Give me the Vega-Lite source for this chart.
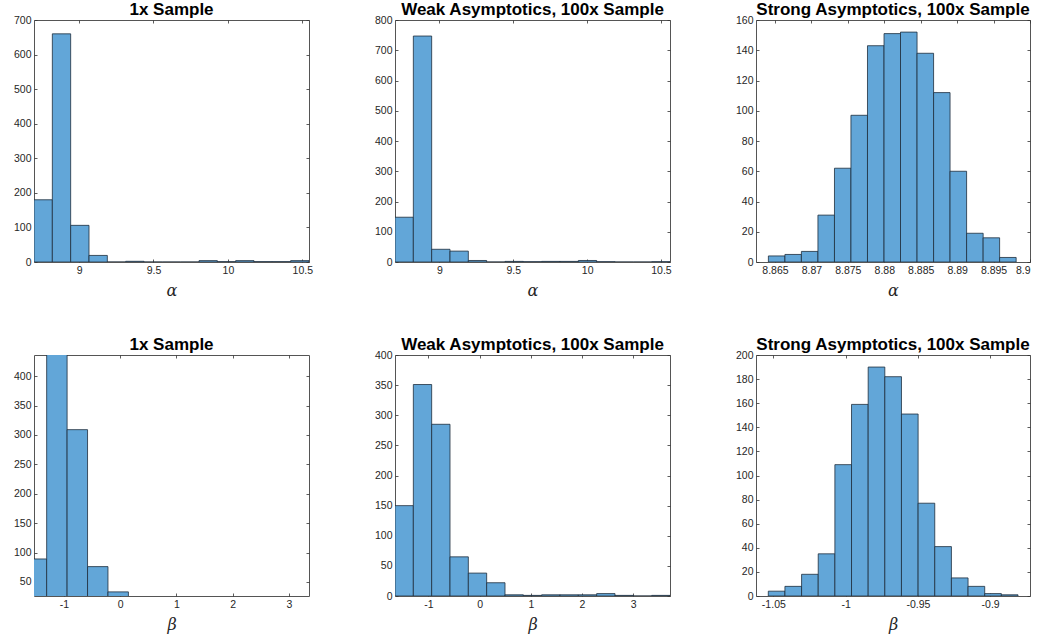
{
  "$schema": "https://vega.github.io/schema/vega-lite/v6.json",
  "autosize": {"type": "pad"},
  "padding": {"left": 12, "top": 0, "right": 5, "bottom": 5},
  "background": "white",
  "datasets": {
    "a1": [
      {"x0": 8.697, "x1": 8.8202, "count": 180},
      {"x0": 8.8202, "x1": 8.9434, "count": 660},
      {"x0": 8.9434, "x1": 9.0666, "count": 106},
      {"x0": 9.0666, "x1": 9.1898, "count": 19},
      {"x0": 9.1898, "x1": 9.313, "count": 0},
      {"x0": 9.313, "x1": 9.4362, "count": 2},
      {"x0": 9.4362, "x1": 9.5594, "count": 0},
      {"x0": 9.5594, "x1": 9.6826, "count": 0},
      {"x0": 9.6826, "x1": 9.8058, "count": 0},
      {"x0": 9.8058, "x1": 9.929, "count": 4},
      {"x0": 9.929, "x1": 10.0522, "count": 1},
      {"x0": 10.0522, "x1": 10.1754, "count": 4},
      {"x0": 10.1754, "x1": 10.2986, "count": 1},
      {"x0": 10.2986, "x1": 10.4218, "count": 1},
      {"x0": 10.4218, "x1": 10.545, "count": 4}
    ],
    "a2": [
      {"x0": 8.699, "x1": 8.8231, "count": 148},
      {"x0": 8.8231, "x1": 8.9473, "count": 747},
      {"x0": 8.9473, "x1": 9.0714, "count": 42},
      {"x0": 9.0714, "x1": 9.1955, "count": 36},
      {"x0": 9.1955, "x1": 9.3197, "count": 5},
      {"x0": 9.3197, "x1": 9.4438, "count": 0},
      {"x0": 9.4438, "x1": 9.5679, "count": 2},
      {"x0": 9.5679, "x1": 9.6921, "count": 1},
      {"x0": 9.6921, "x1": 9.8162, "count": 2},
      {"x0": 9.8162, "x1": 9.9403, "count": 2},
      {"x0": 9.9403, "x1": 10.0645, "count": 5},
      {"x0": 10.0645, "x1": 10.1886, "count": 1},
      {"x0": 10.1886, "x1": 10.3127, "count": 0},
      {"x0": 10.3127, "x1": 10.4369, "count": 0},
      {"x0": 10.4369, "x1": 10.561, "count": 1}
    ],
    "a3": [
      {"x0": 8.8641, "x1": 8.86637, "count": 4},
      {"x0": 8.86637, "x1": 8.86863, "count": 5},
      {"x0": 8.86863, "x1": 8.8709, "count": 7},
      {"x0": 8.8709, "x1": 8.87317, "count": 31},
      {"x0": 8.87317, "x1": 8.87543, "count": 62},
      {"x0": 8.87543, "x1": 8.8777, "count": 97},
      {"x0": 8.8777, "x1": 8.87997, "count": 143},
      {"x0": 8.87997, "x1": 8.88223, "count": 151},
      {"x0": 8.88223, "x1": 8.8845, "count": 152},
      {"x0": 8.8845, "x1": 8.88677, "count": 138},
      {"x0": 8.88677, "x1": 8.88903, "count": 112},
      {"x0": 8.88903, "x1": 8.8913, "count": 60},
      {"x0": 8.8913, "x1": 8.89357, "count": 19},
      {"x0": 8.89357, "x1": 8.89583, "count": 16},
      {"x0": 8.89583, "x1": 8.8981, "count": 3}
    ],
    "b1": [
      {"x0": -1.668, "x1": -1.305, "count": 89},
      {"x0": -1.305, "x1": -0.942, "count": 470},
      {"x0": -0.942, "x1": -0.579, "count": 309},
      {"x0": -0.579, "x1": -0.216, "count": 76},
      {"x0": -0.216, "x1": 0.147, "count": 33}
    ],
    "b2": [
      {"x0": -1.652, "x1": -1.294, "count": 150},
      {"x0": -1.294, "x1": -0.936, "count": 351},
      {"x0": -0.936, "x1": -0.578, "count": 285},
      {"x0": -0.578, "x1": -0.22, "count": 65},
      {"x0": -0.22, "x1": 0.138, "count": 38},
      {"x0": 0.138, "x1": 0.496, "count": 22},
      {"x0": 0.496, "x1": 0.854, "count": 2},
      {"x0": 0.854, "x1": 1.212, "count": 1},
      {"x0": 1.212, "x1": 1.57, "count": 2},
      {"x0": 1.57, "x1": 1.928, "count": 2},
      {"x0": 1.928, "x1": 2.286, "count": 2},
      {"x0": 2.286, "x1": 2.644, "count": 4},
      {"x0": 2.644, "x1": 3.002, "count": 1},
      {"x0": 3.002, "x1": 3.36, "count": 0},
      {"x0": 3.36, "x1": 3.718, "count": 1}
    ],
    "b3": [
      {"x0": -1.0535, "x1": -1.04198, "count": 4},
      {"x0": -1.04198, "x1": -1.03046, "count": 8},
      {"x0": -1.03046, "x1": -1.01894, "count": 18},
      {"x0": -1.01894, "x1": -1.00742, "count": 35},
      {"x0": -1.00742, "x1": -0.9959, "count": 109},
      {"x0": -0.9959, "x1": -0.98438, "count": 159},
      {"x0": -0.98438, "x1": -0.97286, "count": 190},
      {"x0": -0.97286, "x1": -0.96134, "count": 182},
      {"x0": -0.96134, "x1": -0.94982, "count": 151},
      {"x0": -0.94982, "x1": -0.9383, "count": 77},
      {"x0": -0.9383, "x1": -0.92678, "count": 41},
      {"x0": -0.92678, "x1": -0.91526, "count": 15},
      {"x0": -0.91526, "x1": -0.90374, "count": 8},
      {"x0": -0.90374, "x1": -0.89222, "count": 2},
      {"x0": -0.89222, "x1": -0.8807, "count": 1}
    ]
  },
  "columns": 3,
  "spacing": {"row": 93, "column": 86},
  "bounds": "flush",
  "concat": [
    {
      "data": {"name": "a1"}, "width": 275, "height": 242, "title": "1x Sample",
      "layer": [
        {"mark": {"type": "rect", "fill": "#62a6d8", "stroke": "#1e2d3c", "strokeWidth": 0.8, "clip": true},
         "encoding": {
           "x": {"field": "x0", "type": "quantitative", "scale": {"domain": [8.697, 10.545], "nice": false, "zero": false}, "axis": {"values": [9, 9.5, 10, 10.5], "title": "α", "labelExpr": "'' + datum.value"}},
           "x2": {"field": "x1"},
           "y": {"field": "count", "type": "quantitative", "scale": {"domain": [0, 700], "nice": false}, "axis": {"values": [0, 100, 200, 300, 400, 500, 600, 700], "title": null}},
           "y2": {"datum": 0}}},
        {"mark": {"type": "point", "opacity": 0, "clip": true},
         "encoding": {
           "x": {"field": "x0", "type": "quantitative", "axis": {"orient": "top", "values": [9, 9.5, 10, 10.5], "labels": false, "title": null}},
           "y": {"field": "count", "type": "quantitative", "axis": {"orient": "right", "values": [0, 100, 200, 300, 400, 500, 600, 700], "labels": false, "title": null}}}}
      ],
      "resolve": {"axis": {"x": "independent", "y": "independent"}}
    },
    {
      "data": {"name": "a2"}, "width": 275, "height": 242, "title": "Weak Asymptotics, 100x Sample",
      "layer": [
        {"mark": {"type": "rect", "fill": "#62a6d8", "stroke": "#1e2d3c", "strokeWidth": 0.8, "clip": true},
         "encoding": {
           "x": {"field": "x0", "type": "quantitative", "scale": {"domain": [8.699, 10.561], "nice": false, "zero": false}, "axis": {"values": [9, 9.5, 10, 10.5], "title": "α", "labelExpr": "'' + datum.value"}},
           "x2": {"field": "x1"},
           "y": {"field": "count", "type": "quantitative", "scale": {"domain": [0, 800], "nice": false}, "axis": {"values": [0, 100, 200, 300, 400, 500, 600, 700, 800], "title": null}},
           "y2": {"datum": 0}}},
        {"mark": {"type": "point", "opacity": 0, "clip": true},
         "encoding": {
           "x": {"field": "x0", "type": "quantitative", "axis": {"orient": "top", "values": [9, 9.5, 10, 10.5], "labels": false, "title": null}},
           "y": {"field": "count", "type": "quantitative", "axis": {"orient": "right", "values": [0, 100, 200, 300, 400, 500, 600, 700, 800], "labels": false, "title": null}}}}
      ],
      "resolve": {"axis": {"x": "independent", "y": "independent"}}
    },
    {
      "data": {"name": "a3"}, "width": 274, "height": 242, "title": "Strong Asymptotics, 100x Sample",
      "layer": [
        {"mark": {"type": "rect", "fill": "#62a6d8", "stroke": "#1e2d3c", "strokeWidth": 0.8, "clip": true},
         "encoding": {
           "x": {"field": "x0", "type": "quantitative", "scale": {"domain": [8.8624, 8.9], "nice": false, "zero": false}, "axis": {"values": [8.865, 8.87, 8.875, 8.88, 8.885, 8.89, 8.895, 8.9], "title": "α", "labelExpr": "'' + datum.value"}},
           "x2": {"field": "x1"},
           "y": {"field": "count", "type": "quantitative", "scale": {"domain": [0, 160], "nice": false}, "axis": {"values": [0, 20, 40, 60, 80, 100, 120, 140, 160], "title": null}},
           "y2": {"datum": 0}}},
        {"mark": {"type": "point", "opacity": 0, "clip": true},
         "encoding": {
           "x": {"field": "x0", "type": "quantitative", "axis": {"orient": "top", "values": [8.865, 8.87, 8.875, 8.88, 8.885, 8.89, 8.895, 8.9], "labels": false, "title": null}},
           "y": {"field": "count", "type": "quantitative", "axis": {"orient": "right", "values": [0, 20, 40, 60, 80, 100, 120, 140, 160], "labels": false, "title": null}}}}
      ],
      "resolve": {"axis": {"x": "independent", "y": "independent"}}
    },
    {
      "data": {"name": "b1"}, "width": 275, "height": 241, "title": {"text": "1x Sample", "offset": 1},
      "layer": [
        {"mark": {"type": "rect", "fill": "#62a6d8", "stroke": "#1e2d3c", "strokeWidth": 0.8, "clip": true},
         "encoding": {
           "x": {"field": "x0", "type": "quantitative", "scale": {"domain": [-1.53, 3.355], "nice": false, "zero": false}, "axis": {"values": [-1, 0, 1, 2, 3], "title": "β", "labelExpr": "'' + datum.value"}},
           "x2": {"field": "x1"},
           "y": {"field": "count", "type": "quantitative", "scale": {"domain": [26, 436], "nice": false, "zero": false}, "axis": {"values": [50, 100, 150, 200, 250, 300, 350, 400], "title": null}},
           "y2": {"datum": 0}}},
        {"mark": {"type": "point", "opacity": 0, "clip": true},
         "encoding": {
           "x": {"field": "x0", "type": "quantitative", "axis": {"orient": "top", "values": [-1, 0, 1, 2, 3], "labels": false, "title": null}},
           "y": {"field": "count", "type": "quantitative", "axis": {"orient": "right", "values": [50, 100, 150, 200, 250, 300, 350, 400], "labels": false, "title": null}}}}
      ],
      "resolve": {"axis": {"x": "independent", "y": "independent"}}
    },
    {
      "data": {"name": "b2"}, "width": 275, "height": 241, "title": "Weak Asymptotics, 100x Sample",
      "layer": [
        {"mark": {"type": "rect", "fill": "#62a6d8", "stroke": "#1e2d3c", "strokeWidth": 0.8, "clip": true},
         "encoding": {
           "x": {"field": "x0", "type": "quantitative", "scale": {"domain": [-1.652, 3.718], "nice": false, "zero": false}, "axis": {"values": [-1, 0, 1, 2, 3], "title": "β", "labelExpr": "'' + datum.value"}},
           "x2": {"field": "x1"},
           "y": {"field": "count", "type": "quantitative", "scale": {"domain": [0, 400], "nice": false}, "axis": {"values": [0, 50, 100, 150, 200, 250, 300, 350, 400], "title": null}},
           "y2": {"datum": 0}}},
        {"mark": {"type": "point", "opacity": 0, "clip": true},
         "encoding": {
           "x": {"field": "x0", "type": "quantitative", "axis": {"orient": "top", "values": [-1, 0, 1, 2, 3], "labels": false, "title": null}},
           "y": {"field": "count", "type": "quantitative", "axis": {"orient": "right", "values": [0, 50, 100, 150, 200, 250, 300, 350, 400], "labels": false, "title": null}}}}
      ],
      "resolve": {"axis": {"x": "independent", "y": "independent"}}
    },
    {
      "data": {"name": "b3"}, "width": 274, "height": 241, "title": "Strong Asymptotics, 100x Sample",
      "layer": [
        {"mark": {"type": "rect", "fill": "#62a6d8", "stroke": "#1e2d3c", "strokeWidth": 0.8, "clip": true},
         "encoding": {
           "x": {"field": "x0", "type": "quantitative", "scale": {"domain": [-1.062, -0.8724], "nice": false, "zero": false}, "axis": {"values": [-1.05, -1, -0.95, -0.9], "title": "β", "labelExpr": "'' + datum.value"}},
           "x2": {"field": "x1"},
           "y": {"field": "count", "type": "quantitative", "scale": {"domain": [0, 200], "nice": false}, "axis": {"values": [0, 20, 40, 60, 80, 100, 120, 140, 160, 180, 200], "title": null}},
           "y2": {"datum": 0}}},
        {"mark": {"type": "point", "opacity": 0, "clip": true},
         "encoding": {
           "x": {"field": "x0", "type": "quantitative", "axis": {"orient": "top", "values": [-1.05, -1, -0.95, -0.9], "labels": false, "title": null}},
           "y": {"field": "count", "type": "quantitative", "axis": {"orient": "right", "values": [0, 20, 40, 60, 80, 100, 120, 140, 160, 180, 200], "labels": false, "title": null}}}}
      ],
      "resolve": {"axis": {"x": "independent", "y": "independent"}}
    }
  ],
  "config": {
    "view": {"stroke": "#555555", "strokeWidth": 1},
    "axis": {
      "domain": false,
      "grid": false,
      "ticks": true,
      "tickSize": -3,
      "tickColor": "#333333",
      "tickWidth": 0.8,
      "labelPadding": 6,
      "labelFont": "Liberation Sans",
      "labelFontSize": 10.5,
      "labelColor": "#262626",
      "titleFont": "DejaVu Serif",
      "titleFontStyle": "italic",
      "titleFontWeight": "normal",
      "titleFontSize": 16,
      "titleColor": "#262626",
      "titlePadding": 7
    },
    "title": {"font": "Liberation Sans", "fontSize": 17, "fontWeight": "bold", "color": "#000000", "offset": -4, "anchor": "middle"}
  }
}
